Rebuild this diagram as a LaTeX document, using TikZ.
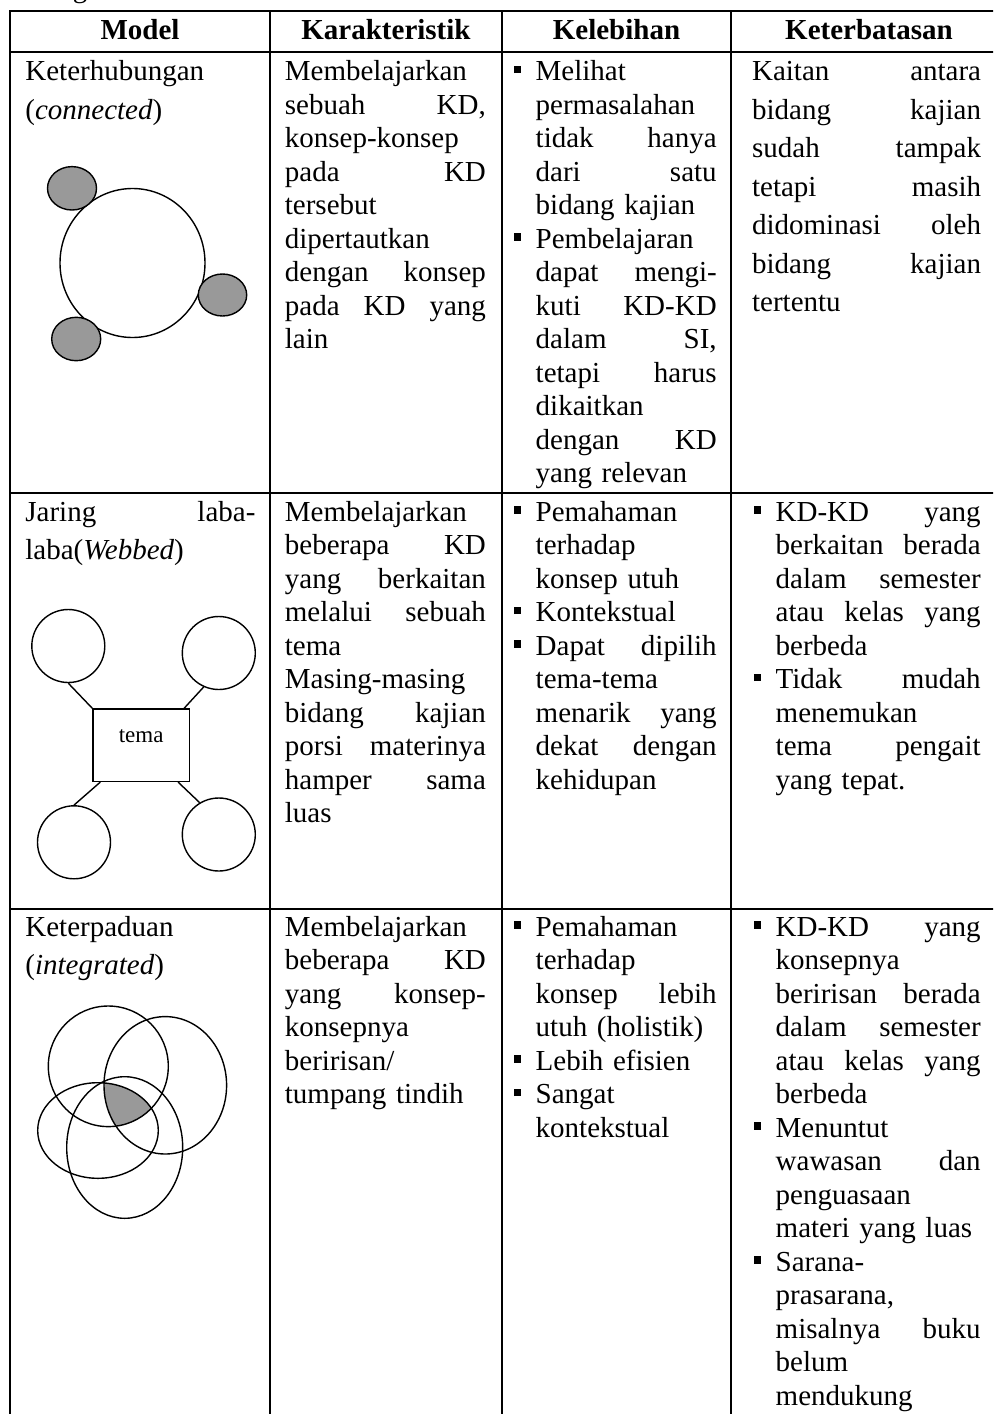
\documentclass[tikz,border=0pt]{standalone}
\usepackage{fontspec}
\setmainfont{Liberation Serif}
\usetikzlibrary{calc}

\definecolor{shadegray}{HTML}{999999}

% justified lines, bullet and hanging indent for the table cells
\newcommand{\bul}{\makebox[11pt][l]{\rule[3.7pt]{3.6pt}{3.6pt}}}
\newcommand{\ind}{\hspace*{11pt}}
\newcommand{\jl}[1]{\makebox[\hsize][s]{\spaceskip=0pt\relax #1}}
\newcommand{\ijl}[1]{\ind\makebox[\dimexpr\hsize-11pt\relax][s]{\spaceskip=0pt\relax #1}}
\newcommand{\bjl}[1]{\bul\makebox[\dimexpr\hsize-11pt\relax][s]{\spaceskip=0pt\relax #1}}

\begin{document}
\begin{tikzpicture}[x=0.5pt, y=-0.5pt]
    % --- Definitions ---
    % The page (993 x 1414 px), the table runs off its right and lower edges
    \useasboundingbox (0,0) rectangle (993,1414);
    \clip (0,0) rectangle (993,1414);

    % Centres of the shapes in the model column
    \coordinate (conn_c) at (132.5, 263);
    \coordinate (integ_a) at (108.3, 1066.3);
    \coordinate (integ_b) at (165.3, 1085.3);
    \coordinate (integ_c) at (98, 1130.5);
    \coordinate (integ_d) at (124.7, 1147.5);

    % --- Styles ---
    \tikzstyle{table_line}=[line width=1pt, line cap=rect]
    \tikzstyle{shape_line}=[line width=0.7pt]
    \tikzstyle{head_text}=[anchor=base, inner sep=0pt, font=\fontsize{14.5}{17}\selectfont\bfseries]
    \tikzstyle{cell_base}=[anchor=base west, inner sep=0pt, align=left, font=\fontsize{14.5}{16.75}\selectfont]
    \tikzstyle{model_text}=[cell_base, text width=115pt, font=\fontsize{14.5}{19.25}\selectfont]
    \tikzstyle{char_text}=[cell_base, text width=100.5pt]
    \tikzstyle{plus_text}=[cell_base, text width=101.5pt]
    \tikzstyle{limit_text}=[cell_base, text width=114.5pt, font=\fontsize{14.5}{19.25}\selectfont]
    \tikzstyle{limit_list}=[cell_base, text width=113.5pt]
    \tikzstyle{web_circle}=[draw, shape_line, circle, minimum size=36.5pt, inner sep=0pt]
    \tikzstyle{tema_box}=[draw, shape_line, rectangle, inner sep=0pt, minimum width=48.2pt,
        text height=16.7pt, text depth=19.5pt, font=\fontsize{11.5}{13}\selectfont]

    % --- 1. Caption above, cut by the page edge ---
    \node[anchor=base, inner sep=0pt, font=\fontsize{14.5}{17}\selectfont] (cap_g) at (80, -2.3) {g};

    % --- 2. Table rules ---
    \foreach \x in {10, 269.5, 502, 731}
        \draw[table_line] (\x, 11) -- (\x, 1420);
    \foreach \y in {11, 52, 493, 909}
        \draw[table_line] (10, \y) -- (1000, \y);

    % --- 3. Header ---
    \node[head_text] (head_model) at (140, 39.5) {Model};
    \node[head_text] (head_char) at (386, 39.5) {Karakteristik};
    \node[head_text] (head_plus) at (616.5, 39.5) {Kelebihan};
    \node[head_text] (head_limit) at (869, 39.5) {Keterbatasan};

    % --- 4. Row: connected ---
    \node[model_text] (model1) at (25, 80.5) {Keterhubungan\\ (\textit{connected})};

    \draw[shape_line, fill=white] (conn_c) ellipse [x radius=72.5, y radius=74.5];
    \draw[shape_line, fill=shadegray] (72, 188.3) ellipse [x radius=24.5, y radius=21.7];
    \draw[shape_line, fill=shadegray] (222.5, 295) ellipse [x radius=24.2, y radius=21];
    \draw[shape_line, fill=shadegray] (76.2, 339) ellipse [x radius=24.5, y radius=21.7];

    \node[char_text] (char1) at (284.5, 80.5) {Membelajarkan\\ \jl{sebuah KD,}\\ konsep-konsep\\
        \jl{pada KD}\\ tersebut\\ dipertautkan\\ \jl{dengan konsep}\\ \jl{pada KD yang}\\ lain};

    \node[plus_text] (plus1) at (513.3, 80.5) {\bul Melihat\\ \ind permasalahan\\ \ijl{tidak hanya}\\
        \ijl{dari satu}\\ \ind bidang kajian\\ \bul Pembelajaran\\ \ijl{dapat mengi-}\\
        \ijl{kuti KD-KD}\\ \ijl{dalam SI,}\\ \ijl{tetapi harus}\\ \ind dikaitkan\\
        \ijl{dengan KD}\\ \ind yang relevan};

    \node[limit_text] (limit1) at (751.7, 80.5) {\jl{Kaitan antara}\\ \jl{bidang kajian}\\ \jl{sudah tampak}\\
        \jl{tetapi masih}\\ \jl{didominasi oleh}\\ \jl{bidang kajian}\\ tertentu};

    % --- 5. Row: webbed ---
    \node[model_text] (model2) at (25, 521) {\jl{Jaring laba-}\\ laba(\textit{Webbed})};

    \node[web_circle] (web_tl) at (68.3, 646) {};
    \node[web_circle] (web_tr) at (218.8, 653) {};
    \node[tema_box, anchor=north west] (tema) at (92.3, 708.3) {tema};
    \node[web_circle] (web_bl) at (74, 842.3) {};
    \node[web_circle] (web_br) at (218.8, 834.5) {};
    \draw[shape_line] (web_tl.south) -- (tema.north west);
    \draw[shape_line] (web_tr.246) -- ([xshift=-3pt]tema.north east);
    \draw[shape_line] ([xshift=4pt]tema.south west) -- (web_bl.north);
    \draw[shape_line] ([xshift=-6pt]tema.south east) -- (web_br.121);

    \node[char_text] (char2) at (284.5, 521) {Membelajarkan\\ \jl{beberapa KD}\\ \jl{yang berkaitan}\\
        \jl{melalui sebuah}\\ tema\\ Masing-masing\\ \jl{bidang kajian}\\ \jl{porsi materinya}\\
        \jl{hamper sama}\\ luas};

    \node[plus_text] (plus2) at (513.3, 521) {\bul Pemahaman\\ \ind terhadap\\ \ind konsep utuh\\
        \bul Kontekstual\\ \bjl{Dapat dipilih}\\ \ind tema-tema\\ \ijl{menarik yang}\\
        \ijl{dekat dengan}\\ \ind kehidupan};

    \node[limit_list] (limit2) at (753.3, 521) {\bjl{KD-KD yang}\\ \ijl{berkaitan berada}\\
        \ijl{dalam semester}\\ \ijl{atau kelas yang}\\ \ind berbeda\\ \bjl{Tidak mudah}\\
        \ind menemukan\\ \ijl{tema pengait}\\ \ind yang tepat.};

    % --- 6. Row: integrated ---
    \node[model_text] (model3) at (25, 936) {Keterpaduan\\ (\textit{integrated})};

    % common part of the four circles
    \begin{scope}
        \clip (integ_a) ellipse [x radius=60, y radius=60.3];
        \clip (integ_b) ellipse [x radius=61.3, y radius=68.7];
        \clip (integ_c) ellipse [x radius=60.3, y radius=47.8];
        \fill[shadegray] (integ_d) ellipse [x radius=58, y radius=70.8];
    \end{scope}
    \draw[shape_line] (integ_a) ellipse [x radius=60, y radius=60.3];
    \draw[shape_line] (integ_b) ellipse [x radius=61.3, y radius=68.7];
    \draw[shape_line] (integ_c) ellipse [x radius=60.3, y radius=47.8];
    \draw[shape_line] (integ_d) ellipse [x radius=58, y radius=70.8];

    \node[char_text] (char3) at (284.5, 936) {Membelajarkan\\ \jl{beberapa KD}\\ \jl{yang konsep-}\\
        konsepnya\\ beririsan/\\ tumpang tindih};

    \node[plus_text] (plus3) at (513.3, 936) {\bul Pemahaman\\ \ind terhadap\\ \ijl{konsep lebih}\\
        \ind utuh (holistik)\\ \bul Lebih efisien\\ \bul Sangat\\ \ind kontekstual};

    \node[limit_list] (limit3) at (753.3, 936) {\bjl{KD-KD yang}\\ \ind konsepnya\\
        \ijl{beririsan berada}\\ \ijl{dalam semester}\\ \ijl{atau kelas yang}\\ \ind berbeda\\
        \bul Menuntut\\ \ijl{wawasan dan}\\ \ind penguasaan\\ \ind materi yang luas\\
        \bul Sarana-\\ \ind prasarana,\\ \ijl{misalnya buku}\\ \ind belum\\ \ind mendukung};

\end{tikzpicture}
\end{document}
